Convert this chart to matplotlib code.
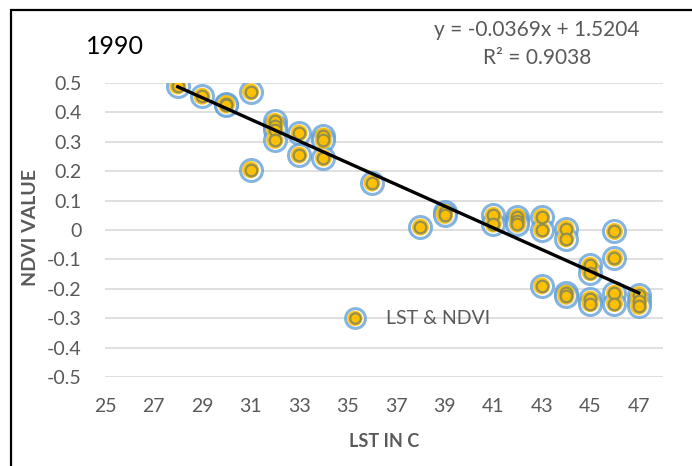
import matplotlib
matplotlib.use("Agg")
import matplotlib.pyplot as plt
from matplotlib.patches import Rectangle
from matplotlib.legend_handler import HandlerTuple

plt.rcParams['font.family'] = ['Lato', 'DejaVu Sans']

# LST (deg C) vs NDVI, 1990
lst = [28, 29, 30, 30, 31, 31, 32, 32, 32, 32, 33, 33, 34, 34, 34, 36, 38, 39, 39,
       41, 41, 42, 42, 42, 43, 43, 43, 44, 44, 44, 44, 45, 45, 45, 45,
       46, 46, 46, 46, 47, 47, 47]
ndvi = [0.49, 0.455, 0.43, 0.425, 0.47, 0.205, 0.37, 0.355, 0.34, 0.305, 0.33, 0.255,
        0.32, 0.305, 0.245, 0.16, 0.01, 0.06, 0.05, 0.05, 0.02, 0.045, 0.03, 0.02,
        0.045, 0.0, -0.19, 0.005, -0.03, -0.215, -0.225, -0.12, -0.145, -0.235, -0.25,
        -0.005, -0.095, -0.215, -0.25, -0.22, -0.24, -0.26]

slope = -0.0369
intercept = 1.5204
r_squared = 0.9038

x_ticks = list(range(25, 48, 2))
y_ticks = [0.5, 0.4, 0.3, 0.2, 0.1, 0, -0.1, -0.2, -0.3, -0.4, -0.5]
y_tick_labels = ['0.5', '0.4', '0.3', '0.2', '0.1', '0', '-0.1', '-0.2', '-0.3', '-0.4', '-0.5']

gray = '#595959'

fig = plt.figure(figsize=(6.92, 4.66), dpi=100)
ax = fig.add_axes([105 / 692, 1 - 377 / 466, 558 / 692, 294 / 466])

# layered marker like the excel style
h1 = ax.scatter(lst, ndvi, s=250, facecolor='white', edgecolor='#5B9BD5', linewidth=2.2,
                alpha=0.75, zorder=3)
h2 = ax.scatter(lst, ndvi, s=150, facecolor='#FFC000', edgecolor='none', alpha=0.9, zorder=4)
h3 = ax.scatter(lst, ndvi, s=70, facecolor='#FFC000', edgecolor='#8C8A55', linewidth=1.6,
                alpha=0.9, zorder=5)

x_fit = [min(lst), max(lst)]
y_fit = [slope * v + intercept for v in x_fit]
ax.plot(x_fit, y_fit, color='black', linewidth=2.4, zorder=6)

ax.set_xlim(25, 48)
ax.set_ylim(-0.5, 0.5)
ax.set_xticks(x_ticks)
ax.set_yticks(y_ticks)
ax.set_yticklabels(y_tick_labels)
ax.tick_params(axis='both', length=0, labelsize=14, labelcolor=gray)
ax.tick_params(axis='x', pad=15)
ax.tick_params(axis='y', pad=17)
ax.grid(axis='y', color='#D9D9D9', linewidth=1.2)
ax.set_axisbelow(True)
for sp in ax.spines.values():
    sp.set_visible(False)

ax.set_xlabel('LST IN C', fontsize=13, fontweight='bold', color=gray, labelpad=13)
fig.text(30 / 692, 1 - 228 / 466, 'NDVI VALUE', rotation=90, fontsize=14,
         fontweight='bold', color=gray, ha='center', va='center')

fig.text(115 / 692, 1 - 47 / 466, '1990', fontsize=18, color='black', ha='center', va='center')
fig.text(537 / 692, 1 - 30 / 466, 'y = -0.0369x + 1.5204', fontsize=15, color=gray,
         ha='center', va='center')
fig.text(537 / 692, 1 - 58 / 466, 'R² = %.4f' % r_squared, fontsize=15, color=gray,
         ha='center', va='center')

ax.legend([(h1, h2, h3)], ['LST & NDVI'], handler_map={tuple: HandlerTuple(ndivide=1)},
          frameon=False, fontsize=14, labelcolor=gray, markerscale=0.9,
          loc='center left', bbox_to_anchor=(318 / 692, 1 - 318 / 466),
          bbox_transform=fig.transFigure, handletextpad=0.6)

fig.patches.append(Rectangle((11 / 692, -0.1), 2, 1 + 0.1 - 10 / 466, transform=fig.transFigure,
                             fill=False, edgecolor='black', linewidth=1.6))

fig.savefig('out.png', dpi=100)
